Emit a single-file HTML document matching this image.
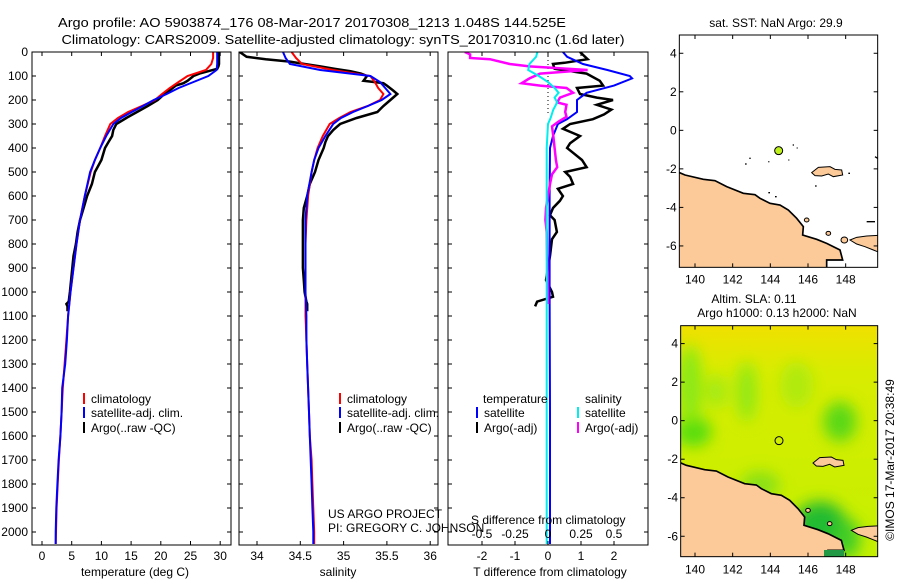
<!DOCTYPE html>
<html><head><meta charset="utf-8"><style>
html,body{margin:0;padding:0;background:#fff;}
svg{display:block;font-family:"Liberation Sans",sans-serif;}
</style></head><body>
<svg id="fig" width="900" height="580" viewBox="0 0 900 580" xmlns="http://www.w3.org/2000/svg">
<rect width="900" height="580" fill="#fff"/>
<text x="312" y="27" font-size="13" text-anchor="middle" textLength="508" lengthAdjust="spacingAndGlyphs">Argo profile: AO 5903874_176 08-Mar-2017 20170308_1213 1.048S 144.525E</text>
<text x="343" y="44" font-size="13" text-anchor="middle" textLength="563" lengthAdjust="spacingAndGlyphs">Climatology: CARS2009. Satellite-adjusted climatology: synTS_20170310.nc (1.6d later)</text>
<g id="plots"></g>

<!-- Map 1 -->
<text x="776" y="27" font-size="12" text-anchor="middle">sat. SST: NaN Argo: 29.9</text>
<svg x="660" y="30" width="240" height="260" viewBox="0 0 720 780">
  <defs><clipPath id="c1"><rect x="58" y="15" width="595" height="697"/></clipPath></defs>
  <g clip-path="url(#c1)">
    <path d="M40,420 L75,435 L130,448 L165,452 L200,470 L250,490 L285,494 L300,505 L330,520 L360,525 L385,540 L410,565 L430,590 L428,615 L470,628 L500,640 L540,660 L548,690 L500,690 L500,730 L40,730 Z" fill="#fcca98" stroke="#000" stroke-width="5"/>
    <path d="M455,428 L475,412 L510,410 L525,418 L545,420 L548,435 L520,440 L505,432 L485,438 L465,437 Z" fill="#fcca98" stroke="#000" stroke-width="3"/>
    <path d="M570,630 L590,622 L620,618 L660,616 L660,668 L640,660 L615,650 L590,642 Z" fill="#fcca98" stroke="#000" stroke-width="3"/>
    <ellipse cx="553" cy="630" rx="10" ry="9" fill="#fcca98" stroke="#000" stroke-width="3"/>
    <ellipse cx="505" cy="610" rx="7" ry="6" fill="#fcca98" stroke="#000" stroke-width="3"/>
    <ellipse cx="440" cy="570" rx="7" ry="6" fill="#fcca98" stroke="#000" stroke-width="3"/>
    <g stroke="#000" stroke-width="4">
      <line x1="255" y1="402" x2="260" y2="402"/><line x1="268" y1="385" x2="272" y2="385"/><line x1="325" y1="395" x2="328" y2="395"/><line x1="385" y1="390" x2="388" y2="390"/><line x1="398" y1="345" x2="402" y2="345"/><line x1="410" y1="354" x2="413" y2="354"/><line x1="465" y1="468" x2="470" y2="468"/><line x1="565" y1="430" x2="570" y2="430"/><line x1="325" y1="488" x2="330" y2="488"/><line x1="345" y1="500" x2="350" y2="500"/><line x1="620" y1="575" x2="645" y2="575"/><line x1="645" y1="380" x2="653" y2="385"/>
    </g>
  </g>
  <circle cx="356" cy="362" r="12" fill="#bef01e" stroke="#000" stroke-width="3"/>
  <rect x="58" y="15" width="595" height="697" fill="none" stroke="#000" stroke-width="3"/>
  <g id="m1ticks"></g>
</svg>

<!-- Map 2 -->
<text x="754" y="303" font-size="12" text-anchor="middle">Altim. SLA: 0.11</text>
<text x="777" y="317" font-size="12" text-anchor="middle">Argo h1000: 0.13 h2000: NaN</text>
<svg x="660" y="285" width="240" height="295" viewBox="0 0 720 885">
  <defs>
    <clipPath id="c2"><rect x="62" y="122" width="591" height="693"/></clipPath>
    <linearGradient id="g2" x1="0" y1="0" x2="0" y2="1">
      <stop offset="0" stop-color="#f0e000"/><stop offset="0.2" stop-color="#d8ec00"/><stop offset="1" stop-color="#c4f000"/>
    </linearGradient>
    <filter id="bl" x="-50%" y="-50%" width="200%" height="200%"><feGaussianBlur stdDeviation="22"/></filter>
  </defs>
  <g clip-path="url(#c2)">
    <rect x="62" y="122" width="591" height="693" fill="url(#g2)"/>
    <g filter="url(#bl)">
      <ellipse cx="100" cy="440" rx="55" ry="45" fill="#55dd10"/>
      <ellipse cx="90" cy="300" rx="35" ry="120" fill="#88e818"/>
      <ellipse cx="260" cy="320" rx="30" ry="90" fill="#90e818"/>
      <ellipse cx="170" cy="320" rx="30" ry="50" fill="#a0ea14"/>
      <ellipse cx="540" cy="410" rx="50" ry="60" fill="#5ad818"/>
      <ellipse cx="410" cy="300" rx="50" ry="70" fill="#b0ea10"/>
      <ellipse cx="480" cy="720" rx="80" ry="70" fill="#22bb30"/>
      <ellipse cx="560" cy="760" rx="40" ry="60" fill="#40cc28"/>
      <ellipse cx="300" cy="600" rx="60" ry="40" fill="#88e018"/>
    </g>
    <g transform="translate(4,106)">
      <path d="M40,420 L75,435 L130,448 L165,452 L200,470 L250,490 L285,494 L300,505 L330,520 L360,525 L385,540 L410,565 L430,590 L428,615 L470,628 L500,640 L540,660 L548,690 L500,690 L500,730 L40,730 Z" fill="#fcca98" stroke="#000" stroke-width="5"/>
      <path d="M455,428 L475,412 L510,410 L525,418 L545,420 L548,435 L520,440 L505,432 L485,438 L465,437 Z" fill="#fcca98" stroke="#000" stroke-width="3"/>
      <path d="M570,630 L590,622 L620,618 L660,616 L660,668 L640,660 L615,650 L590,642 Z" fill="#fcca98" stroke="#000" stroke-width="3"/>
      <ellipse cx="505" cy="610" rx="7" ry="6" fill="#fcca98" stroke="#000" stroke-width="3"/>
      <ellipse cx="440" cy="570" rx="7" ry="6" fill="#fcca98" stroke="#000" stroke-width="3"/>
    </g>
    <rect x="492" y="795" width="60" height="25" fill="#229944"/>
  </g>
  <circle cx="357" cy="467" r="12" fill="none" stroke="#000" stroke-width="3"/>
  <rect x="62" y="122" width="591" height="693" fill="none" stroke="#000" stroke-width="3"/>
  <g id="m2ticks"></g>
</svg>
<text transform="translate(894,460) rotate(-90)" font-size="12" text-anchor="middle">©IMOS 17-Mar-2017 20:38:49</text>
</svg>

<script>
// ---- data ----
const depthClim = [0,25,50,75,100,125,150,175,200,225,250,275,300,350,400,450,500,600,700,800,900,1000,1100,1200,1300,1400,1500,1600,1700,1800,1900,2000,2050];
const tempClim = [28.8,28.8,28.5,27.6,24.5,23,21.5,20.2,19,16.8,14.5,12.8,11.5,10.6,9.8,8.9,8.2,7.2,6.4,5.8,5.3,4.8,4.4,4.1,3.8,3.5,3.3,3.1,2.85,2.65,2.45,2.35,2.3];
const tempSat = [29.5,29.5,29.5,29.4,28,25.5,23,21,18.8,17,15.1,13.3,12,10.8,9.8,8.9,8.1,7.2,6.4,5.8,5.3,4.8,4.4,4.2,3.9,3.4,3.3,3.1,2.8,2.6,2.4,2.3,2.3];
const salClim = [34.40,34.45,34.52,34.88,35.31,35.36,35.40,35.46,35.42,35.28,35.08,34.95,34.84,34.76,34.70,34.66,34.63,34.59,34.57,34.56,34.56,34.56,34.56,34.57,34.58,34.59,34.60,34.61,34.63,34.64,34.65,34.66,34.66];
const salSat = [34.30,34.33,34.38,34.73,35.31,35.42,35.48,35.54,35.44,35.28,35.11,34.97,34.88,34.79,34.71,34.66,34.63,34.58,34.56,34.56,34.56,34.56,34.57,34.57,34.58,34.59,34.60,34.61,34.62,34.63,34.64,34.65,34.65];
const depthArgo = [0,10,20,30,40,50,60,70,80,90,100,120,130,140,160,175,200,225,250,275,300,325,350,375,400,450,500,550,600,650,700,750,800,850,900,950,1000,1040,1050,1060,1080];
const argoTemp = [29.8,29.8,29.8,29.8,29.8,29.8,29.7,29.5,28.0,26.5,25.5,24.5,23.8,22.5,21.5,20.6,19.5,17.8,16.0,14.2,12.5,12.0,11.8,11.2,10.6,10.0,8.9,8.4,7.6,7.0,6.4,6.0,5.7,5.3,5.1,4.9,4.7,4.5,4.1,4.3,4.3];
const argoSal = [33.80,33.84,33.88,34.10,34.38,34.55,34.73,34.90,35.08,35.20,35.27,35.23,35.46,35.50,35.57,35.62,35.54,35.46,35.39,35.15,34.96,34.88,34.82,34.79,34.77,34.71,34.67,34.61,34.58,34.54,34.53,34.53,34.53,34.53,34.53,34.54,34.55,34.57,34.58,34.58,34.58];
const depthArgoTDiff = [0,30,45,50,70,90,120,140,150,175,190,200,220,240,260,280,300,320,350,380,400,420,450,480,500,520,550,570,600,620,650,680,700,750,780,850,950,1000,1020,1040,1060];
const argoTDiff = [0.97,1.2,0.5,0.15,0.2,1.17,1.57,1.67,0.88,0.97,1.48,1.97,1.48,1.92,1.7,1.36,0.67,0.45,0.97,0.67,0.58,0.76,1.03,1.17,0.52,0.67,0.76,0.3,0.45,0.36,0.15,0.06,0.2,0.27,0.12,0.06,-0.06,0.12,0.15,-0.33,-0.39];
const depthSatTDiff = [0,20,50,75,100,110,140,170,200,250,280,300,350,400,600,1000,1500,2050];
const satTDiff = [0.45,0.58,1.06,1.8,2.48,2.55,2.0,1.17,0.88,0.88,0.58,0.3,0.15,0.06,0.05,0.05,0.06,0.06];
const depthArgoSDiff = [0,10,25,30,50,60,75,90,110,130,140,150,170,190,210,220,250,270,290,310,350,400,450,480,510,550,600,650,700,750,1050];
const argoSDiff = [-0.63,-0.59,-0.59,-0.44,-0.29,-0.14,0.30,-0.06,-0.14,-0.2,-0.06,0.14,0.19,0.09,0.07,0.14,0.13,0.14,0.08,0.03,0.04,0.05,0.06,0.07,0.03,0.015,0,-0.015,-0.02,-0.01,0];
const depthSatSDiff = [0,20,50,75,100,125,150,170,190,210,240,275,300,400,1000,2050];
const satSDiff = [-0.08,-0.09,-0.14,-0.15,-0.07,0,0.05,0.08,0.05,0.07,0.04,0.02,0.0,-0.01,-0.01,-0.01];
const depthTicks = [0,100,200,300,400,500,600,700,800,900,1000,1100,1200,1300,1400,1500,1600,1700,1800,1900,2000];
const tempTicks = [0,5,10,15,20,25,30];
const salTicks = [34,34.5,35,35.5,36];
const tDiffTicks = [-2,-1,0,1,2];
const sDiffTicks = [-0.5,-0.25,0,0.25,0.5];
const lonTicks = [140,142,144,146,148];
const latTicks = [4,2,0,-2,-4,-6];

// ---- scales ----
const yD = d => 52 + d * 0.24;
const xT = t => 42 + t * 5.94;
const xS = s => 257 + (s - 34) * 86.6;
const xdT = v => 548 + v * 33;
const xdS = v => 548 + v * 132;
const NS = 'http://www.w3.org/2000/svg';
const plots = document.getElementById('plots');
function mk(tag, attrs, parent) {
  const e = document.createElementNS(NS, tag);
  for (const k in attrs) e.setAttribute(k, attrs[k]);
  (parent || plots).appendChild(e);
  return e;
}
const panels = [[32,231],[239,438],[448,648]];
const TOP = 52, BOT = 545;
panels.forEach((p, i) => {
  const cp = mk('clipPath', {id: 'pc' + i});
  mk('rect', {x: p[0], y: TOP, width: p[1] - p[0], height: BOT - TOP}, cp);
});
function line(ds, vs, sx, color, clip, name, w) {
  const pts = ds.map((d, i) => sx(vs[i]).toFixed(1) + ',' + yD(d).toFixed(1)).join(' ');
  const pl = mk('polyline', {points: pts, fill: 'none', stroke: color, 'stroke-width': w || 2, 'clip-path': 'url(#pc' + clip + ')', 'stroke-linejoin': 'miter'});
  
  
}
// zero line
const zl = mk('line', {x1: 548, x2: 548, y1: TOP, y2: yD(260), stroke: '#000', 'stroke-width': 1, 'stroke-dasharray': '1,3'});



line(depthArgo, argoTemp, xT, '#000', 0, 'argo-temperature-line', 2.5);
line(depthClim, tempClim, xT, '#f00', 0, 'climatology-temperature-line');
line(depthClim, tempSat, xT, '#00f', 0, 'satellite-temperature-line');
line(depthArgo, argoSal, xS, '#000', 1, 'argo-salinity-line', 2.5);
line(depthClim, salClim, xS, '#f00', 1, 'climatology-salinity-line');
line(depthClim, salSat, xS, '#00f', 1, 'satellite-salinity-line');
line(depthArgoTDiff, argoTDiff, xdT, '#000', 2, 'argo-t-diff-line', 2.5);
line(depthSatTDiff, satTDiff, xdT, '#00f', 2, 'satellite-t-diff-line');
line(depthArgoSDiff, argoSDiff, xdS, '#f0f', 2, 'argo-s-diff-line', 2.5);
line(depthSatSDiff, satSDiff, xdS, '#0ee', 2, 'satellite-s-diff-line');

// frames & ticks
panels.forEach((p, i) => {
  const r = mk('rect', {x: p[0], y: TOP, width: p[1] - p[0], height: BOT - TOP, fill: 'none', stroke: '#000', 'stroke-width': 1});
  
  
  depthTicks.forEach(d => {
    mk('line', {x1: p[0], x2: p[0] + 4, y1: yD(d), y2: yD(d), stroke: '#000'});
    mk('line', {x1: p[1] - 4, x2: p[1], y1: yD(d), y2: yD(d), stroke: '#000'});
  });
});
depthTicks.forEach(d => {
  const t = mk('text', {x: 28, y: yD(d) + 4, 'font-size': 12, 'text-anchor': 'end'});
  t.textContent = d;
  
  
});
function xticks(ticks, sx, yLab, withTicks, name) {
  ticks.forEach(v => {
    const x = sx(v);
    if (withTicks) {
      mk('line', {x1: x, x2: x, y1: TOP, y2: TOP + 4, stroke: '#000'});
      mk('line', {x1: x, x2: x, y1: BOT - 4, y2: BOT, stroke: '#000'});
    }
    const t = mk('text', {x: x, y: yLab, 'font-size': 12, 'text-anchor': 'middle'});
    t.textContent = v;
    
    
  });
}
xticks(tempTicks, xT, 560, true, 'temperature-tick-label');
xticks(salTicks, xS, 560, true, 'salinity-tick-label');
xticks(tDiffTicks, xdT, 560, true, 't-diff-tick-label');
xticks(sDiffTicks, xdS, 538, false, 's-diff-tick-label');

function txt(x, y, s, name, anchor, size, color) {
  const t = mk('text', {x: x, y: y, 'font-size': size || 12, 'text-anchor': anchor || 'start', fill: color || '#000'});
  t.textContent = s;
  
  
}
txt(135, 576, 'temperature (deg C)', 'x-axis-title-temperature', 'middle');
txt(338, 576, 'salinity', 'x-axis-title-salinity', 'middle');
txt(550, 576, 'T difference from climatology', 'x-axis-title-t-diff', 'middle');
txt(471, 524, 'S difference from climatology', 'x-axis-title-s-diff');
txt(328, 518, 'US ARGO PROJECT', 'project-credit');
txt(328, 532, 'PI: GREGORY C. JOHNSON', 'pi-credit');

function legendEntry(x, y, color, label, name) {
  const l = mk('line', {x1: x, x2: x, y1: y - 10, y2: y + 1, stroke: color, 'stroke-width': 2});
  
  
  txt(x + 7, y, label, name);
}
legendEntry(84, 403, '#f00', 'climatology', 'legend-climatology-t');
legendEntry(84, 417, '#00f', 'satellite-adj. clim.', 'legend-satellite-t');
legendEntry(84, 432, '#000', 'Argo(..raw -QC)', 'legend-argo-t');
legendEntry(340, 403, '#f00', 'climatology', 'legend-climatology-s');
legendEntry(340, 417, '#00f', 'satellite-adj. clim.', 'legend-satellite-s');
legendEntry(340, 432, '#000', 'Argo(..raw -QC)', 'legend-argo-s');
txt(483, 403, 'temperature', 'legend-header-temperature');
legendEntry(477, 417, '#00f', 'satellite', 'legend-sat-t-diff');
legendEntry(477, 432, '#000', 'Argo(-adj)', 'legend-argo-t-diff');
txt(585, 403, 'salinity', 'legend-header-salinity');
legendEntry(578, 417, '#0ee', 'satellite', 'legend-sat-s-diff');
legendEntry(578, 432, '#f0f', 'Argo(-adj)', 'legend-argo-s-diff');

// map ticks (in map viewBox units)
function mapTicks(gid, x0, x1, y0, y1, lonToX, latToY, labY) {
  const g = document.getElementById(gid);
  lonTicks.forEach(v => {
    const x = lonToX(v);
    mk('line', {x1: x, x2: x, y1: y0, y2: y0 + 12, stroke: '#000', 'stroke-width': 3}, g);
    mk('line', {x1: x, x2: x, y1: y1 - 12, y2: y1, stroke: '#000', 'stroke-width': 3}, g);
    const t = mk('text', {x: x, y: labY, 'font-size': 36, 'text-anchor': 'middle'}, g);
    t.textContent = v;
    
    
  });
  latTicks.forEach(v => {
    const y = latToY(v);
    mk('line', {x1: x0, x2: x0 + 12, y1: y, y2: y, stroke: '#000', 'stroke-width': 3}, g);
    mk('line', {x1: x1 - 12, x2: x1, y1: y, y2: y, stroke: '#000', 'stroke-width': 3}, g);
    const t = mk('text', {x: x0 - 8, y: y + 12, 'font-size': 36, 'text-anchor': 'end'}, g);
    t.textContent = v;
    
    
  });
}
mapTicks('m1ticks', 58, 653, 15, 712, v => 105 + (v - 140) * 56.5, v => 301 - v * 57.8, 760);
mapTicks('m2ticks', 62, 653, 122, 815, v => 105 + (v - 140) * 56.5, v => 407 - v * 57.8, 865);
</script>
</body></html>
